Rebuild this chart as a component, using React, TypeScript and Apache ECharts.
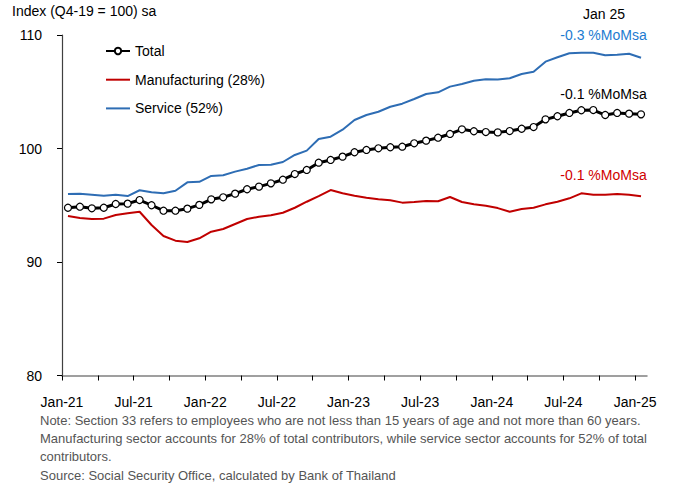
import React, { useEffect, useRef } from "react";
import * as echarts from "echarts";

// Monthly index, Jan-21 .. Jan-25 (49 months)
const tickLabels = ["Jan-21", "Jul-21", "Jan-22", "Jul-22", "Jan-23", "Jul-23", "Jan-24", "Jul-24", "Jan-25"];

const total = [
  94.78, 94.87, 94.73, 94.78, 95.11, 95.14, 95.46, 95.0, 94.52, 94.52, 94.7, 95.03,
  95.52, 95.7, 96.02, 96.41, 96.64, 96.93, 97.25, 97.75, 98.11, 98.75, 98.99, 99.28,
  99.67, 99.87, 100.02, 100.11, 100.16, 100.46, 100.69, 100.95, 101.28, 101.69, 101.52, 101.45,
  101.42, 101.54, 101.74, 101.89, 102.57, 102.84, 103.13, 103.37, 103.39, 102.95, 103.13, 103.07,
  103.01,
];

const manufacturing = [
  94.05, 93.88, 93.79, 93.82, 94.14, 94.29, 94.43, 93.26, 92.29, 91.88, 91.76, 92.09,
  92.67, 92.91, 93.35, 93.79, 93.99, 94.11, 94.34, 94.78, 95.31, 95.81, 96.34, 96.05,
  95.84, 95.67, 95.52, 95.44, 95.23, 95.29, 95.37, 95.35, 95.73, 95.29, 95.08, 94.96,
  94.75, 94.43, 94.67, 94.78, 95.08, 95.31, 95.61, 96.05, 95.93, 95.93, 95.99, 95.93,
  95.8,
];

const service = [
  95.99, 96.02, 95.93, 95.84, 95.93, 95.81, 96.32, 96.14, 96.05, 96.28, 97.02, 97.06,
  97.58, 97.64, 97.96, 98.22, 98.55, 98.57, 98.81, 99.43, 99.81, 100.84, 101.04, 101.66,
  102.51, 102.95, 103.24, 103.68, 103.95, 104.36, 104.8, 104.95, 105.45, 105.68, 105.97, 106.1,
  106.07, 106.19, 106.56, 106.77, 107.65, 108.04, 108.39, 108.44, 108.44, 108.21, 108.27, 108.35,
  108.0,
];

const noteLines = [
  "Note: Section 33 refers to employees who are not less than 15 years of age and not more than 60 years.",
  "Manufacturing sector accounts for 28% of total contributors, while service sector accounts for 52% of total",
  "contributors.",
  "Source: Social Security Office, calculated by Bank of Thailand",
];

const FONT = "'Liberation Sans', Arial, sans-serif";

const toPoints = (arr: number[]) => arr.map((v, i) => [i + 0.5, v]);

export default function App() {
  const ref = useRef<HTMLDivElement>(null);

  useEffect(() => {
    if (!ref.current) return;
    const chart = echarts.init(ref.current, null, { renderer: "svg" });
    const tickVals: number[] = [];
    for (let m = 0; m <= 48; m += 3) tickVals.push(m);
    const labelVals: number[] = [];
    for (let m = 0; m <= 48; m += 6) labelVals.push(m);

    chart.setOption({
      animation: false,
      backgroundColor: "#fff",
      textStyle: { fontFamily: FONT },
      grid: { left: 62, right: 32, top: 35, bottom: 112.5, containLabel: false },
      legend: {
        orient: "vertical",
        left: 100,
        top: 39,
        itemWidth: 24,
        itemHeight: 8,
        itemGap: 14.7,
        textStyle: { fontSize: 14, color: "#000", fontFamily: FONT },
        data: [
          { name: "Total" },
          { name: "Manufacturing (28%)", itemStyle: { opacity: 0 } },
          { name: "Service (52%)", itemStyle: { opacity: 0 } },
        ],
      },
      xAxis: {
        type: "value",
        min: 0,
        max: 49,
        interval: 3,
        axisLine: { show: true, lineStyle: { color: "#808080", width: 1.5 } },
        axisTick: {
          show: true,
          length: 5,
          customValues: tickVals,
          lineStyle: { color: "#000", width: 1 },
        },
        axisLabel: {
          customValues: labelVals,
          margin: 19,
          fontSize: 14,
          color: "#000",
          fontFamily: FONT,
          formatter: (v: number) => {
            const idx = Math.round(v) / 6;
            return Number.isInteger(idx) && tickLabels[idx] ? tickLabels[idx] : "";
          },
        },
        splitLine: { show: false },
      },
      yAxis: {
        type: "value",
        min: 80,
        max: 110,
        interval: 10,
        axisLine: { show: true, lineStyle: { color: "#404040", width: 1.2 } },
        axisTick: { show: true, length: 5, lineStyle: { color: "#000" } },
        axisLabel: { fontSize: 14, color: "#000", margin: 20, fontFamily: FONT },
        splitLine: { show: false },
      },
      series: [
        {
          name: "Manufacturing (28%)",
          type: "line",
          data: toPoints(manufacturing),
          symbol: "none",
          lineStyle: { color: "#C00000", width: 2 },
          itemStyle: { color: "#C00000" },
          z: 2,
        },
        {
          name: "Service (52%)",
          type: "line",
          data: toPoints(service),
          symbol: "none",
          lineStyle: { color: "#2E6DB4", width: 2 },
          itemStyle: { color: "#2E6DB4" },
          z: 2,
        },
        {
          name: "Total",
          type: "line",
          data: toPoints(total),
          symbol: "circle",
          symbolSize: 7,
          showSymbol: true,
          lineStyle: { color: "#000", width: 3 },
          itemStyle: { color: "#fff", borderColor: "#000", borderWidth: 1.2 },
          z: 3,
        },
      ],
      graphic: [
        {
          type: "text",
          left: 12,
          top: 4,
          style: { text: "Index (Q4-19 = 100) sa", fontSize: 14, fill: "#000", font: `14px ${FONT}` },
        },
        {
          type: "text",
          x: 604,
          y: 14,
          style: { text: "Jan 25", font: `14px ${FONT}`, fill: "#000", align: "center", verticalAlign: "middle" },
        },
        {
          type: "text",
          x: 603.5,
          y: 35,
          style: { text: "-0.3 %MoMsa", font: `14px ${FONT}`, fill: "#1C7BD0", align: "center", verticalAlign: "middle" },
        },
        {
          type: "text",
          x: 603.5,
          y: 94,
          style: { text: "-0.1 %MoMsa", font: `14px ${FONT}`, fill: "#000", align: "center", verticalAlign: "middle" },
        },
        {
          type: "text",
          x: 603.5,
          y: 175,
          style: { text: "-0.1 %MoMsa", font: `14px ${FONT}`, fill: "#D00000", align: "center", verticalAlign: "middle" },
        },
        ...noteLines.map((t, k) => ({
          type: "text",
          x: 40,
          y: [420, 438.3, 456.7, 475][k],
          style: { text: t, font: `13px ${FONT}`, fill: "#555", verticalAlign: "middle" },
        })),
      ],
    });
    return () => chart.dispose();
  }, []);

  return (
    <div
      ref={ref}
      style={{ position: "fixed", left: 0, top: 0, width: 679, height: 488, background: "#fff" }}
    />
  );
}
